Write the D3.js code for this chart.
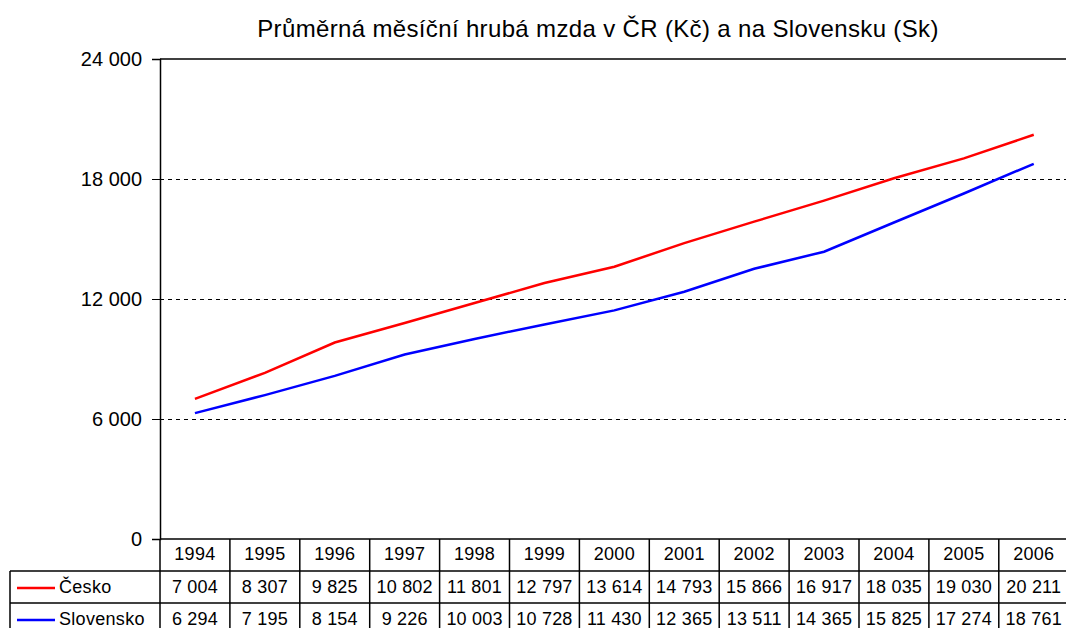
<!DOCTYPE html>
<html>
<head>
<meta charset="utf-8">
<script src="https://cdn.jsdelivr.net/npm/d3@7"></script>
<style>
  body { margin: 0; background: #fff; }
  svg text { font-family: "Liberation Sans", Arial, sans-serif; fill: #000; }
</style>
</head>
<body>
<svg id="chart" width="1066" height="628"></svg>
<script>
var years = ['1994','1995','1996','1997','1998','1999','2000','2001','2002','2003','2004','2005','2006'];
var cesko = [7004, 8307, 9825, 10802, 11801, 12797, 13614, 14793, 15866, 16917, 18035, 19030, 20211];
var slovensko = [6294, 7195, 8154, 9226, 10003, 10728, 11430, 12365, 13511, 14365, 15825, 17274, 18761];
var yTicks = [0, 6000, 12000, 18000, 24000];
var seriesNames = ['Česko', 'Slovensko'];
var seriesColors = ['#ff0000', '#0000ff'];

var svg = d3.select('#chart');
const margin = {top: 59, left: 160, bottom: 539};
const colW = 69.9;
const rowH = 32;

var fmt = function(v) { return d3.format(',')(v).replace(/,/g, ' '); };

var x = d3.scaleBand()
    .domain(years)
    .range([margin.left, margin.left + colW * years.length]);
var y = d3.scaleLinear()
    .domain([0, 24000])
    .range([margin.bottom, margin.top]);

// title
svg.append('text')
    .attr('x', 598).attr('y', 37)
    .attr('text-anchor', 'middle')
    .style('font-size', '24px')
    .style('letter-spacing', '0.35px')
    .text('Průměrná měsíční hrubá mzda v ČR (Kč) a na Slovensku (Sk)');

// gridlines
svg.append('g').selectAll('line')
    .data(yTicks.filter(d => d > 0 && d < 24000))
    .enter().append('line')
    .attr('x1', margin.left).attr('x2', x.range()[1])
    .attr('y1', d => Math.round(y(d)) + 0.5).attr('y2', d => Math.round(y(d)) + 0.5)
    .attr('stroke', '#000').attr('stroke-width', 1)
    .attr('stroke-dasharray', '4,4')
    .attr('shape-rendering', 'crispEdges');

// top border
svg.append('line')
    .attr('x1', margin.left).attr('x2', x.range()[1])
    .attr('y1', y(24000)).attr('y2', y(24000))
    .attr('stroke', '#000').attr('stroke-width', 1.5);

// y axis
var yAxis = svg.append('g')
    .attr('transform', `translate(${margin.left},0)`)
    .call(d3.axisLeft(y).tickValues(yTicks).tickSize(8).tickPadding(10)
        .tickFormat(fmt));
yAxis.select('.domain').attr('stroke', '#000').attr('stroke-width', 1.5);
yAxis.selectAll('.tick line').attr('stroke', '#000');
yAxis.selectAll('text')
    .style('font-size', '20px')
    .attr('font-family', null);

// lines
var line = d3.line()
    .x((d, i) => x(years[i]) + x.bandwidth() / 2)
    .y(d => y(d));
[cesko, slovensko].forEach(function(s, k) {
    svg.append('path')
        .datum(s)
        .attr('fill', 'none')
        .attr('stroke', seriesColors[k])
        .attr('stroke-width', 2.5)
        .attr('d', line);
});

// data table
var t = svg.append('g');
var tableRight = x.range()[1];
var tableBottom = margin.bottom + rowH * 3;
t.append('line').attr('x1', margin.left).attr('x2', tableRight)
    .attr('y1', margin.bottom).attr('y2', margin.bottom)
    .attr('stroke', '#000').attr('stroke-width', 1.5);
[1, 2, 3].forEach(function(r) {
    t.append('line').attr('x1', 10).attr('x2', tableRight)
        .attr('y1', margin.bottom + r * rowH).attr('y2', margin.bottom + r * rowH)
        .attr('stroke', '#000').attr('stroke-width', 1.5);
});
t.selectAll('.vl').data(years.concat(['end']))
    .enter().append('line')
    .attr('x1', (d, i) => margin.left + i * colW)
    .attr('x2', (d, i) => margin.left + i * colW)
    .attr('y1', margin.bottom).attr('y2', tableBottom)
    .attr('stroke', '#000').attr('stroke-width', 1.5);
t.append('line').attr('x1', 10).attr('x2', 10)
    .attr('y1', margin.bottom + rowH).attr('y2', tableBottom)
    .attr('stroke', '#000').attr('stroke-width', 1.5);

// year header
t.selectAll('.yr').data(years)
    .enter().append('text')
    .attr('x', d => x(d) + x.bandwidth() / 2)
    .attr('y', margin.bottom + 21)
    .attr('text-anchor', 'middle')
    .style('font-size', '18px')
    .style('letter-spacing', '0.3px')
    .text(d => d);

// rows
[cesko, slovensko].forEach(function(s, k) {
    var ry = margin.bottom + rowH * (k + 1);
    t.append('line')
        .attr('x1', 17).attr('x2', 55)
        .attr('y1', ry + 17).attr('y2', ry + 17)
        .attr('stroke', seriesColors[k]).attr('stroke-width', 2.5);
    t.append('text')
        .attr('x', 59).attr('y', ry + 22)
        .style('font-size', '18px')
        .style('letter-spacing', '0.3px')
        .text(seriesNames[k]);
    t.selectAll('.v' + k).data(s)
        .enter().append('text')
        .attr('x', (d, i) => x(years[i]) + x.bandwidth() / 2)
        .attr('y', ry + 22)
        .attr('text-anchor', 'middle')
        .style('font-size', '18px')
        .style('letter-spacing', '0.2px')
        .text(d => fmt(d));
});
</script>
</body>
</html>
